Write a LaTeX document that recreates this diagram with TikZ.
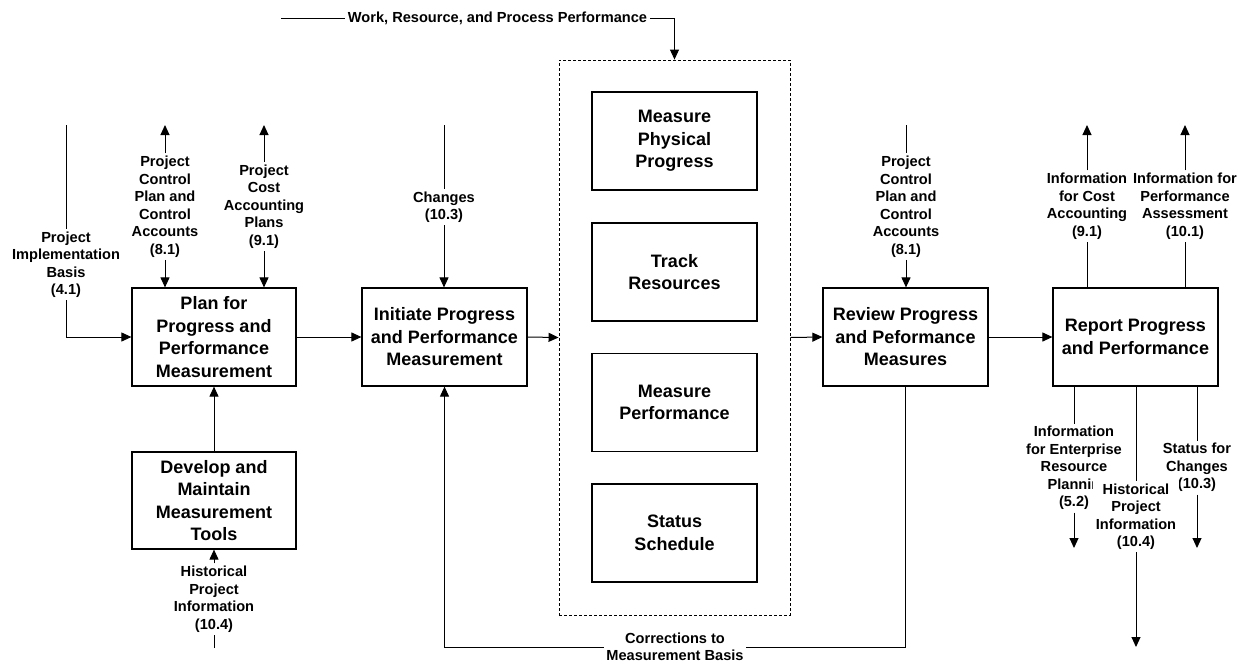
\documentclass[tikz,border=0pt]{standalone}
\usepackage{fontspec}
\setmainfont{Liberation Sans}
\usetikzlibrary{arrows.meta}
\newcommand{\boxfont}{\bfseries\fontsize{18}{22.5}\selectfont}
\newcommand{\lblfont}{\bfseries\fontsize{14.6}{17.5}\selectfont}
\begin{document}
\begin{tikzpicture}[x=1pt,y=-1pt,
  procbox/.style={draw, line width=1.2pt, align=center, font=\boxfont,
    minimum width=165pt, minimum height=98pt, inner sep=2pt},
  grpbox/.style={draw, line width=0.9pt, dash pattern=on 3pt off 2pt,
    minimum width=231pt, minimum height=555pt, inner sep=0pt},
  lbl/.style={align=center, font=\lblfont, inner sep=2.5pt, fill=white},
  conn/.style={line width=1pt},
  arr/.style={line width=1pt, -{Triangle[length=10pt,width=9pt]}}
]
\useasboundingbox (0,0) rectangle (1245,665);

% process boxes
\node[procbox, minimum width=164pt] (plan) at (214,337) {Plan for\\Progress and\\Performance\\Measurement};
\node[procbox, minimum width=164pt, minimum height=97pt] (dev) at (214,500.5) {Develop and\\Maintain\\Measurement\\Tools};
\node[procbox] (ini) at (444.5,337) {Initiate Progress\\and Performance\\Measurement};
\node[grpbox] (grp) at (674.5,337.5) {};
\node[procbox] (mpp) at (674.5,141) {Measure\\Physical\\Progress};
\node[procbox] (trk) at (674.5,272) {Track\\Resources};
\node[procbox] (mpf) at (674.5,402.5) {Measure\\Performance};
\node[procbox] (sts) at (674.5,533) {Status\\Schedule};
\node[procbox] (rev) at (905.5,337) {Review Progress\\and Peformance\\Measures};
\node[procbox] (rep) at (1135.5,337) {Report Progress\\and Performance};

% flow labels
\node[lbl] (wrp) at (497.5,18) {Work, Resource, and Process Performance};
\node[lbl] (pib) at (66,264.5) {Project\\Implementation\\Basis\\(4.1)};
\node[lbl] (pcpa) at (165,206.5) {Project\\Control\\Plan and\\Control\\Accounts\\(8.1)};
\node[lbl] (pca) at (264,206.5) {Project\\Cost\\Accounting\\Plans\\(9.1)};
\node[lbl] (chg) at (444,207) {Changes\\(10.3)};
\node[lbl] (pcpb) at (906,206.5) {Project\\Control\\Plan and\\Control\\Accounts\\(8.1)};
\node[lbl] (icost) at (1087,206) {Information\\for Cost\\Accounting\\(9.1)};
\node[lbl] (iperf) at (1185,206) {Information for\\Performance\\Assessment\\(10.1)};
\node[lbl] (hista) at (214,599) {Historical\\Project\\Information\\(10.4)};
\node[lbl] (ierp) at (1074,468) {Information\\for Enterprise\\Resource\\Plannin\\(5.2)};
\node[lbl] (stc) at (1197,467.5) {Status for\\Changes\\(10.3)};
\node[lbl] (histb) at (1136,516.5) {Historical\\Project\\Information\\(10.4)};
\node[lbl] (corr) at (675,647) {Corrections to\\Measurement Basis};

% free ends of connectors
\coordinate (wrpin) at (281,18);
\coordinate (pibin) at (66,125);
\coordinate (pcpaout) at (165,125);
\coordinate (pcaout) at (264,125);
\coordinate (chgin) at (444,125);
\coordinate (pcpbin) at (906,125);
\coordinate (icostout) at (1087,125);
\coordinate (iperfout) at (1185,125);
\coordinate (histain) at (214,648);
\coordinate (ierpout) at (1074,548);
\coordinate (stcout) at (1197,548);
\coordinate (histbout) at (1136,647);

% inputs and controls
\draw[conn] (wrpin) -- (wrp.west);
\draw[arr] (wrp.east) -| (grp.north);
\draw[conn] (pibin) -- (pib.north);
\draw[arr] (pib.south) |- (plan.west);
\draw[arr] (pcpa.north) -- (pcpaout);
\draw[arr] (pcpa.south) -- (pcpa.south |- plan.north);
\draw[arr] (pca.north) -- (pcaout);
\draw[arr] (pca.south) -- (pca.south |- plan.north);
\draw[conn] (chgin) -- (chg.north);
\draw[arr] (chg.south) -- (chg.south |- ini.north);
\draw[conn] (pcpbin) -- (pcpb.north);
\draw[arr] (pcpb.south) -- (pcpb.south |- rev.north);
\draw[conn] (histain) -- (hista.south);
\draw[arr] (hista.north) -- (dev.south);

% main flow
\draw[arr] (dev.north) -- (plan.south);
\draw[arr] (plan.east) -- (ini.west);
\draw[arr] (ini.east) -- (grp.west);
\draw[arr] (grp.east) -- (rev.west);
\draw[arr] (rev.east) -- (rep.west);
\draw[conn] (rev.south) |- (corr.east);
\draw[arr] (corr.west) -| (ini.south);

% outputs
\draw[conn] (rep.north -| icost) -- (icost.south);
\draw[arr] (icost.north) -- (icostout);
\draw[conn] (rep.north -| iperf) -- (iperf.south);
\draw[arr] (iperf.north) -- (iperfout);
\draw[conn] (rep.south -| ierp) -- (ierp.north);
\draw[arr] (ierp.south) -- (ierpout);
\draw[conn] (rep.south -| stc) -- (stc.north);
\draw[arr] (stc.south) -- (stcout);
\draw[conn] (rep.south -| histb) -- (histb.north);
\draw[arr] (histb.south) -- (histbout);
\end{tikzpicture}
\end{document}
